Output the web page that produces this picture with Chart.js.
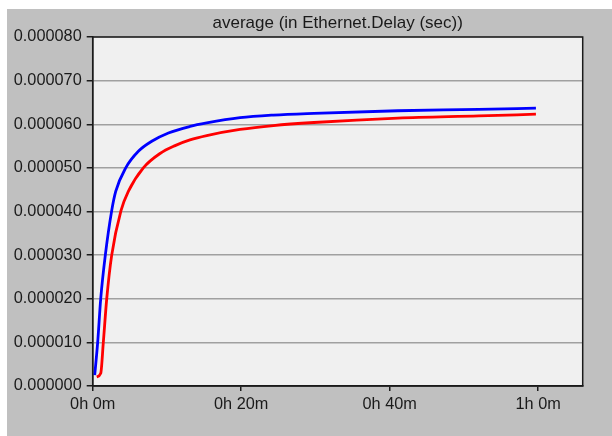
<!DOCTYPE html>
<html>
<head>
<meta charset="utf-8">
<script src="https://cdn.jsdelivr.net/npm/chart.js@4"></script>
<style>
  body { margin: 0; background: #fff; }
  #wrap { position: absolute; left: 7px; top: 9px; width: 605px; height: 427px; background: #c0c0c0; }
</style>
</head>
<body>
<div id="wrap"><canvas id="chart" width="605" height="427"></canvas></div>
<script>
const chartTitle = 'average (in Ethernet.Delay (sec))';

// time in minutes, delay in seconds
const blueMinutes = [0.27, 0.67, 1.08, 1.7, 2.56, 3.1, 4.45, 6.15, 7.95, 10.2, 13.11, 15.36, 19.85, 24.34, 29.8, 41.1, 52.0, 59.7];
const blueDelay = [0.0000025, 0.0000100, 0.0000200, 0.0000300, 0.0000402, 0.0000446, 0.0000500, 0.0000538, 0.0000561,
    0.0000580, 0.0000595, 0.0000603, 0.0000615, 0.0000621, 0.0000625, 0.0000631, 0.0000634, 0.0000637];

const redMinutes = [0.54, 1.08, 1.43, 1.89, 2.56, 3.81, 4.8, 6.82, 9.07, 11.1, 13.1, 15.36, 19.85, 24.34, 29.8, 41.1, 52.0, 59.7];
const redDelay = [0.0000021, 0.0000029, 0.0000100, 0.0000200, 0.0000300, 0.0000402, 0.0000446, 0.0000500, 0.0000533,
    0.0000551, 0.0000564, 0.0000574, 0.0000588, 0.0000597, 0.0000604, 0.0000614, 0.0000619, 0.0000623];

const xTickValues = [0, 20, 40, 60];
const xTickLabels = ['0h 0m', '0h 20m', '0h 40m', '1h 0m'];

function toPoints(xs, ys) {
    return xs.map((x, i) => ({ x: x, y: ys[i] }));
}

// plot background, frame and title
const framePlugin = {
    id: 'frame',
    beforeDraw(chart) {
        const a = chart.chartArea;
        const ctx = chart.ctx;
        ctx.save();
        ctx.fillStyle = '#f0f0f0';
        ctx.fillRect(a.left, a.top, a.right - a.left, a.bottom - a.top);
        ctx.restore();
    },
    afterDraw(chart) {
        const a = chart.chartArea;
        const ctx = chart.ctx;
        ctx.save();
        ctx.strokeStyle = '#1a1a1a';
        ctx.lineWidth = 1.5;
        ctx.strokeRect(a.left, a.top, a.right - a.left, a.bottom - a.top);
        ctx.fillStyle = '#1a1a1a';
        ctx.font = '17px "Liberation Sans", Arial, sans-serif';
        ctx.textAlign = 'center';
        ctx.textBaseline = 'middle';
        ctx.fillText(chartTitle, (a.left + a.right) / 2, 14);
        ctx.restore();
    }
};

Chart.defaults.font.family = '"Liberation Sans", Arial, sans-serif';
Chart.defaults.font.size = 16.3;
Chart.defaults.color = '#1a1a1a';

new Chart(document.getElementById('chart'), {
    type: 'line',
    data: {
        datasets: [{
            data: toPoints(redMinutes, redDelay),
            borderColor: '#ff0000',
            borderWidth: 2.8,
            pointRadius: 0,
            cubicInterpolationMode: 'monotone'
        }, {
            data: toPoints(blueMinutes, blueDelay),
            borderColor: '#0000ff',
            borderWidth: 2.8,
            pointRadius: 0,
            cubicInterpolationMode: 'monotone'
        }]
    },
    options: {
        responsive: false,
        animation: false,
        layout: { padding: { top: 28, right: 29.3, left: 0, bottom: 0 } },
        plugins: {
            legend: { display: false },
            tooltip: { enabled: false }
        },
        scales: {
            x: {
                type: 'linear',
                min: 0,
                max: 66,
                afterBuildTicks(scale) {
                    scale.ticks = xTickValues.map(v => ({ value: v }));
                },
                afterFit(scale) { scale.height = 50; },
                ticks: {
                    padding: 4,
                    maxRotation: 0,
                    callback: (v) => xTickLabels[xTickValues.indexOf(v)]
                },
                grid: {
                    drawOnChartArea: false,
                    tickLength: 5,
                    tickColor: '#1a1a1a',
                    lineWidth: 1.5
                },
                border: { color: '#1a1a1a', width: 1.5 }
            },
            y: {
                min: 0,
                max: 0.00008,
                afterFit(scale) { scale.width = 85.7; },
                ticks: {
                    stepSize: 0.00001,
                    padding: 5,
                    callback: (v) => v.toFixed(6)
                },
                grid: {
                    color: '#a0a0a0',
                    lineWidth: 1.5,
                    tickLength: 6,
                    tickColor: '#1a1a1a'
                },
                border: { color: '#1a1a1a', width: 1.5 }
            }
        }
    },
    plugins: [framePlugin]
});
</script>
</body>
</html>
